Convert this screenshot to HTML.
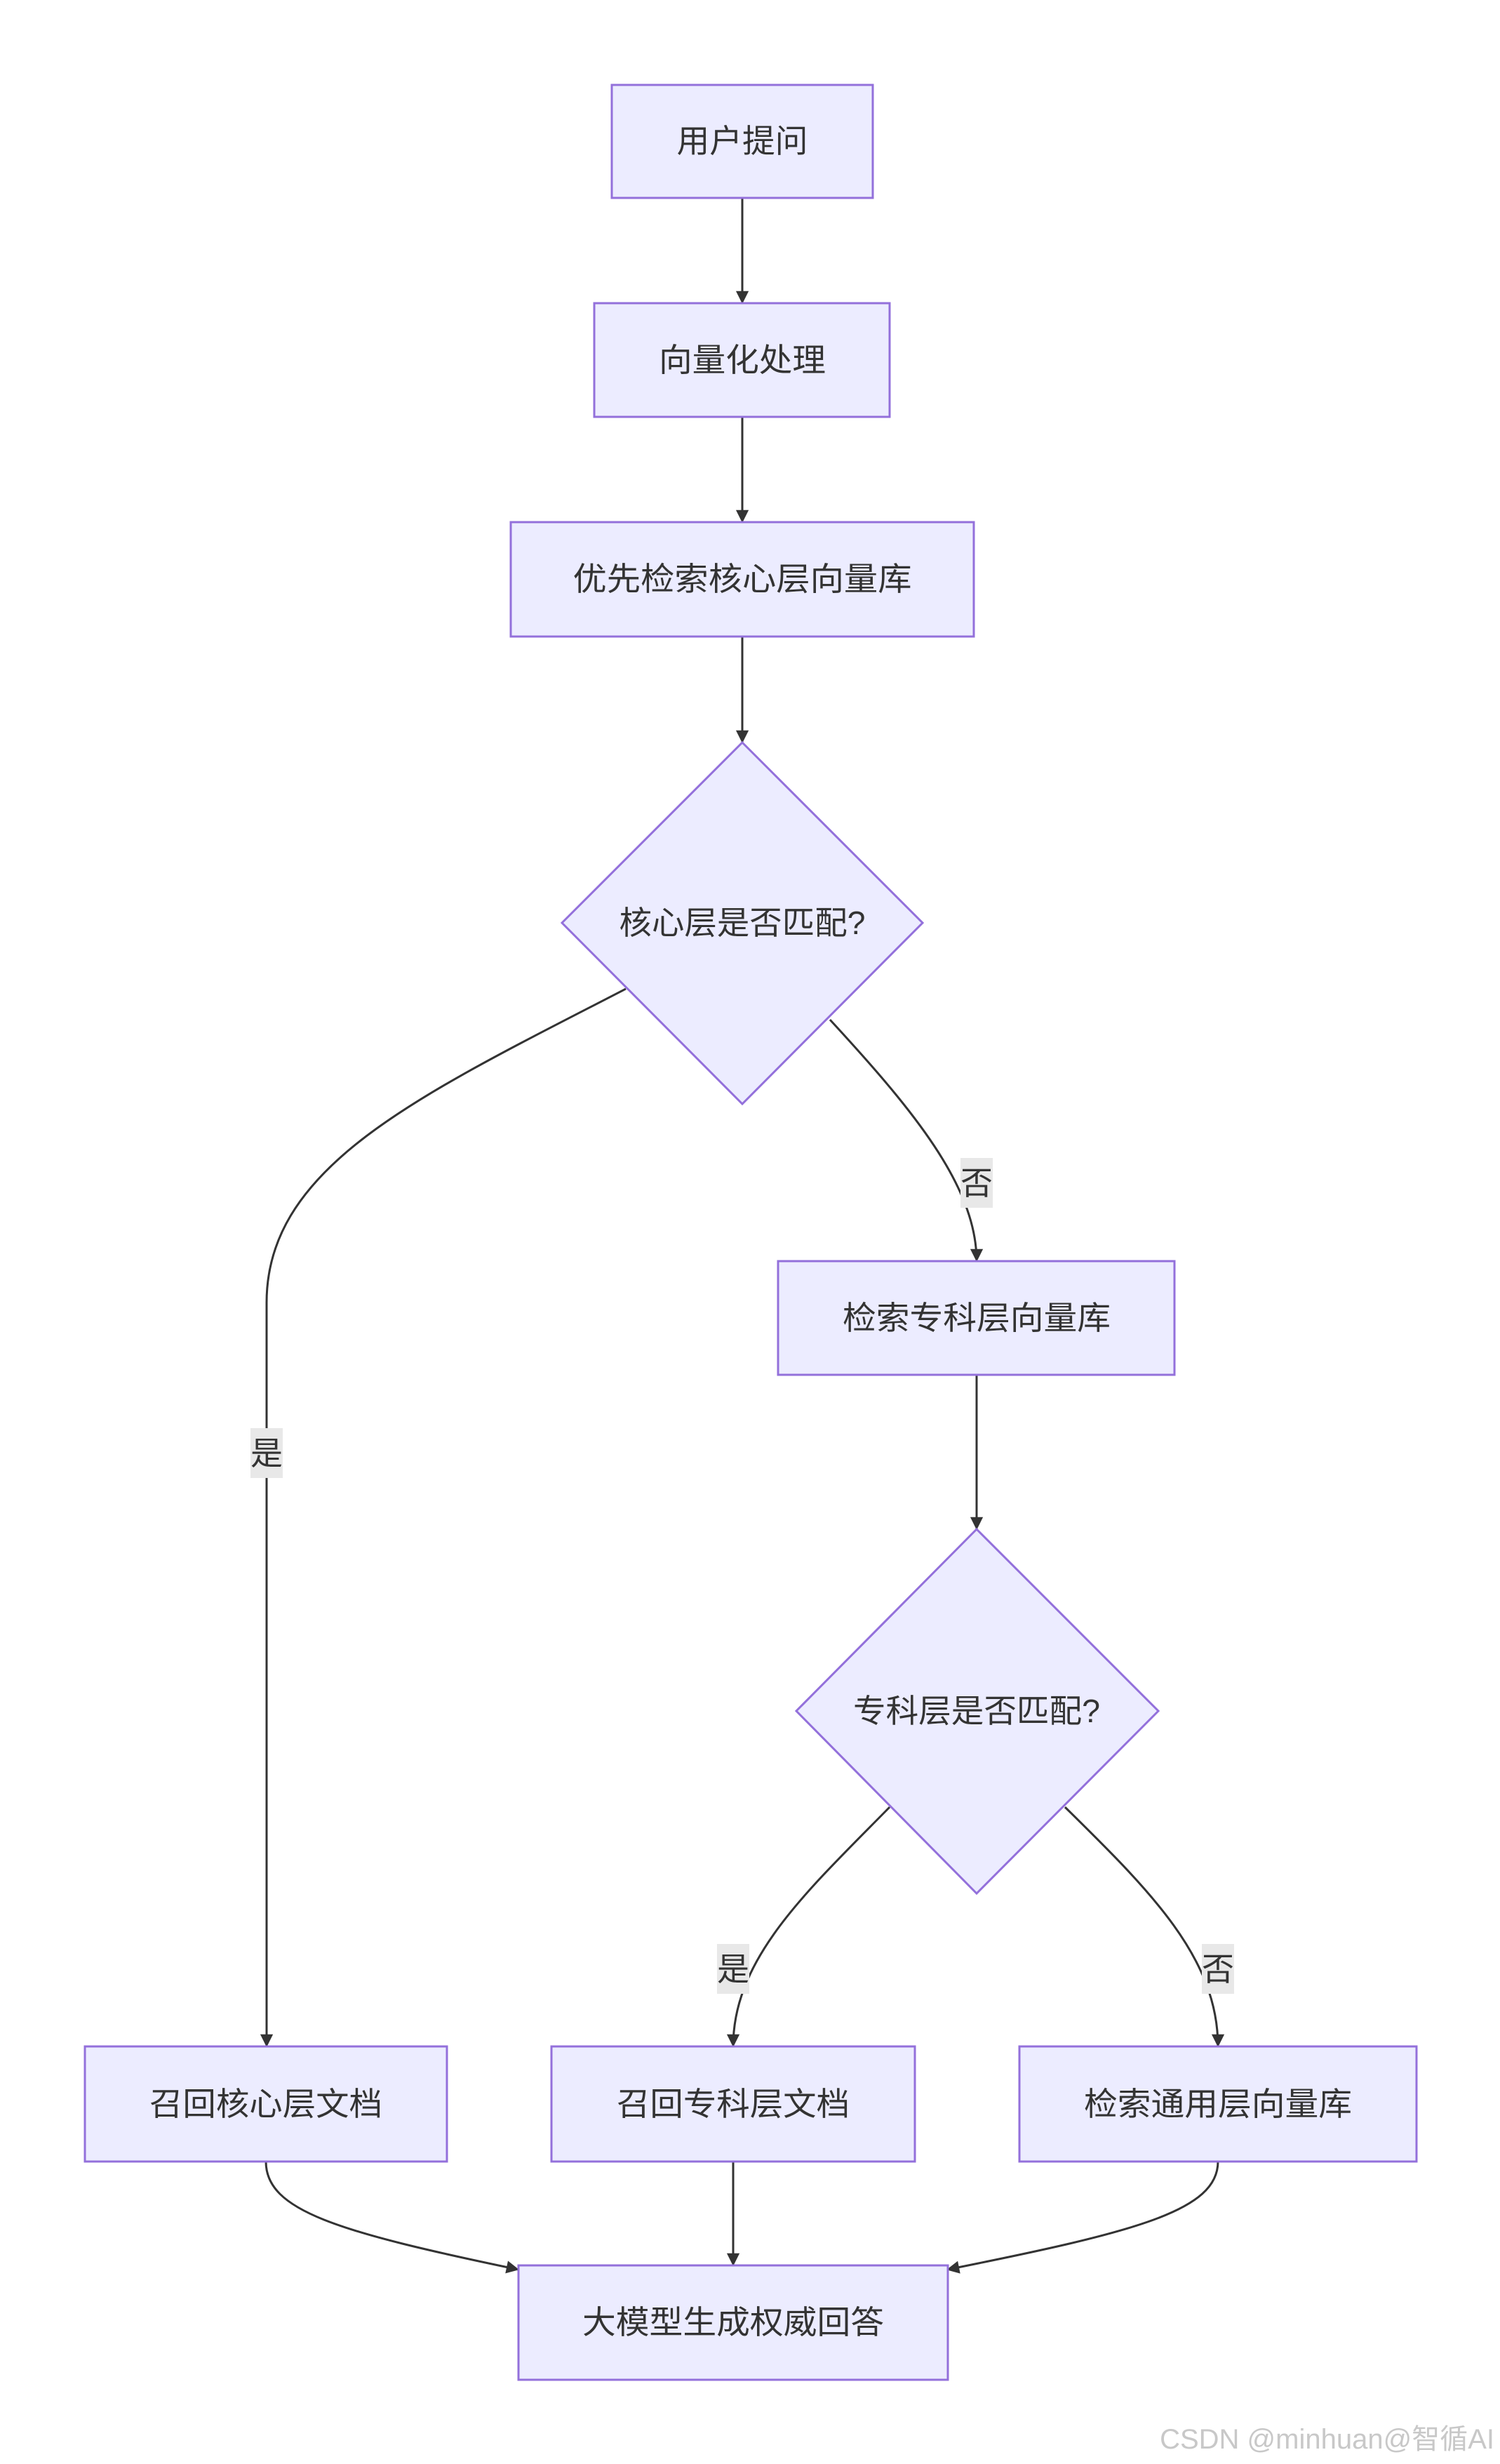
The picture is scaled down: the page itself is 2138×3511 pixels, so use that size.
<!DOCTYPE html>
<html><head><meta charset="utf-8"><style>
html,body{margin:0;padding:0;background:#fff;}
svg{display:block;}
text{font-family:"Liberation Sans","Noto Sans CJK SC",sans-serif;fill:#333;}
</style></head><body>
<svg width="2138" height="3511" viewBox="0 0 2138 3511" xmlns="http://www.w3.org/2000/svg">
<defs>
<marker id="ah" viewBox="0 0 10 10" refX="9" refY="5" markerWidth="7" markerHeight="7" markerUnits="userSpaceOnUse" orient="auto" style="overflow:visible">
<path d="M0,0 L10,5 L0,10 z" fill="#333" transform="scale(2.6) translate(-6,-3.1)"/>
</marker>
</defs>
<g fill="none" stroke="#333" stroke-width="3">
<path d="M1058,282 L1058,432" marker-end="url(#ah)"/>
<path d="M1058,594 L1058,744" marker-end="url(#ah)"/>
<path d="M1058,907 L1058,1058" marker-end="url(#ah)"/>
<path d="M892,1409 C600,1560 380,1660 380,1856 L380,2916" marker-end="url(#ah)"/>
<path d="M1183,1453 C1300,1580 1392,1690 1392,1797" marker-end="url(#ah)"/>
<path d="M1392,1959 L1392,2179" marker-end="url(#ah)"/>
<path d="M1268,2575 C1150,2695 1045,2790 1045,2916" marker-end="url(#ah)"/>
<path d="M1518,2575 C1640,2695 1736,2790 1736,2916" marker-end="url(#ah)"/>
<path d="M1045,3080 L1045,3228" marker-end="url(#ah)"/>
<path d="M379,3080 C379,3150 480,3180 739,3234" marker-end="url(#ah)"/>
<path d="M1736,3080 C1736,3150 1620,3180 1350,3234" marker-end="url(#ah)"/>
</g>
<g fill="#ECECFF" stroke="#9370DB" stroke-width="3">
<rect x="872" y="121" width="372" height="161"/>
<rect x="847" y="432" width="421" height="162"/>
<rect x="728" y="744" width="660" height="163"/>
<polygon points="1058,1058 1315,1315 1058,1573 801,1315"/>
<rect x="1109" y="1797" width="565" height="162"/>
<polygon points="1392,2179 1651,2438 1392,2698 1135,2438"/>
<rect x="121" y="2916" width="516" height="164"/>
<rect x="786" y="2916" width="518" height="164"/>
<rect x="1453" y="2916" width="566" height="164"/>
<rect x="739" y="3228" width="612" height="163"/>
</g>
<g fill="#e8e8e8">
<rect x="1369" y="1650" width="46" height="71"/>
<rect x="357" y="2035" width="46" height="71"/>
<rect x="1022" y="2770" width="46" height="71"/>
<rect x="1713" y="2770" width="46" height="71"/>
</g>
<g font-size="46" text-anchor="middle" dominant-baseline="central">
<text x="1058" y="201" textLength="187" lengthAdjust="spacingAndGlyphs">用户提问</text>
<text x="1058" y="513" textLength="238" lengthAdjust="spacingAndGlyphs">向量化处理</text>
<text x="1058" y="825" textLength="483" lengthAdjust="spacingAndGlyphs">优先检索核心层向量库</text>
<text x="1058" y="1315" textLength="351" lengthAdjust="spacingAndGlyphs">核心层是否匹配?</text>
<text x="1392" y="1878" textLength="382" lengthAdjust="spacingAndGlyphs">检索专科层向量库</text>
<text x="1392" y="2438" textLength="352" lengthAdjust="spacingAndGlyphs">专科层是否匹配?</text>
<text x="379" y="2998" textLength="332" lengthAdjust="spacingAndGlyphs">召回核心层文档</text>
<text x="1045" y="2998" textLength="332" lengthAdjust="spacingAndGlyphs">召回专科层文档</text>
<text x="1736" y="2998" textLength="382" lengthAdjust="spacingAndGlyphs">检索通用层向量库</text>
<text x="1045" y="3309" textLength="430" lengthAdjust="spacingAndGlyphs">大模型生成权威回答</text>
<text x="1392" y="1686">否</text>
<text x="380" y="2071">是</text>
<text x="1045" y="2806">是</text>
<text x="1736" y="2806">否</text>
</g>
<text x="2130" y="3476" font-size="40" text-anchor="end" dominant-baseline="central" style="fill:#c8c8c8">CSDN @minhuan@智循AI</text>
</svg>
</body></html>
